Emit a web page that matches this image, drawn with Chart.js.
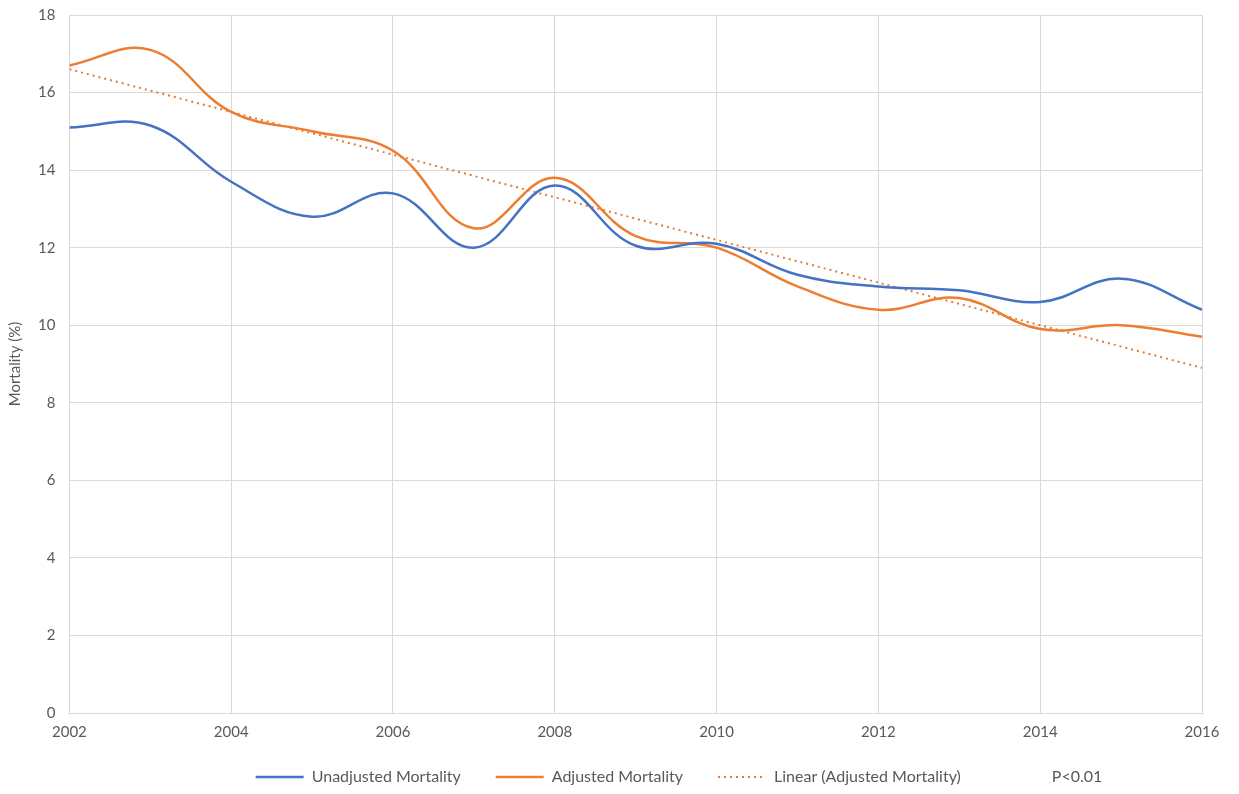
<!DOCTYPE html>
<html>
<head>
<meta charset="utf-8">
<script src="https://cdn.jsdelivr.net/npm/chart.js@4/dist/chart.umd.min.js"></script>
<style>
  html, body { margin: 0; padding: 0; background: #fff; }
  #wrap { width: 1239px; height: 794px; }
</style>
</head>
<body>
<div id="wrap"><canvas id="mortality"></canvas></div>
<script>
/* ---------- DATA ---------- */
const years = [2002, 2003, 2004, 2005, 2006, 2007, 2008, 2009, 2010, 2011, 2012, 2013, 2014, 2015, 2016];
const unadjusted = [15.1, 15.15, 13.7, 12.8, 13.4, 12.0, 13.6, 12.05, 12.1, 11.3, 11.0, 10.9, 10.6, 11.2, 10.4];
const adjusted = [16.7, 17.1, 15.5, 15.0, 14.5, 12.5, 13.8, 12.3, 12.0, 11.0, 10.4, 10.7, 9.9, 10.0, 9.7];
// trendline ends
const trendYears = [2002, 2016];
const trendValues = [16.6, 8.9];
const yTicks = [0, 2, 4, 6, 8, 10, 12, 14, 16, 18];
const xTicks = [2002, 2004, 2006, 2008, 2010, 2012, 2014, 2016];

const pts = (xs, ys) => xs.map((x, i) => ({ x: x, y: ys[i] }));

const FONT = "Lato, 'Open Sans', sans-serif";
const GREY = '#595959';
const GRID = '#d9d9d9';
const LEGEND_PAD = 35;   // horizontal gap between legend items
const LEGEND_H = 42;     // legend box height, kept fixed

/* wide gaps between legend items without a tall legend box,
   and nudge the row to the right like the excel original */
const legendTweak = {
  id: 'legendTweak',
  afterInit(chart) {
    const lg = chart.legend;
    const fit = lg.fit;
    lg.fit = function () { fit.call(this); this.height = LEGEND_H; };
  },
  afterLayout(chart) {
    const lg = chart.legend;
    lg.top -= 17;
    lg.left += 75;
    lg.right += 75;
  }
};

/* ---------- CHART ---------- */
new Chart(document.getElementById('mortality').getContext('2d'), {
  type: 'line',
  data: {
    datasets: [
      {
        label: 'Unadjusted Mortality',
        data: pts(years, unadjusted),
        borderColor: '#4472C4',
        backgroundColor: '#4472C4',
        borderWidth: 2.5,
        tension: 0.4,
        pointRadius: 0
      },
      {
        label: 'Adjusted Mortality',
        data: pts(years, adjusted),
        borderColor: '#ED7D31',
        backgroundColor: '#ED7D31',
        borderWidth: 2.5,
        tension: 0.4,
        pointRadius: 0
      },
      {
        label: 'Linear (Adjusted Mortality)',
        data: pts(trendYears, trendValues),
        borderColor: '#E07B39',
        backgroundColor: '#E07B39',
        borderWidth: 2,
        borderDash: [2, 4],
        tension: 0,
        pointRadius: 0
      },
      {
        label: 'P<0.01',
        data: [],
        borderColor: 'rgba(0,0,0,0)',
        backgroundColor: 'rgba(0,0,0,0)',
        borderWidth: 0,
        pointRadius: 0
      }
    ]
  },
  plugins: [legendTweak],
  options: {
    responsive: true,
    maintainAspectRatio: false,
    animation: false,
    layout: { padding: { top: 0, right: 37, bottom: 1, left: 6 } },
    plugins: {
      tooltip: { enabled: false },
      legend: {
        position: 'bottom',
        labels: {
          usePointStyle: true,
          pointStyle: 'line',
          pointStyleWidth: 48,
          padding: LEGEND_PAD,
          color: GREY,
          font: { family: FONT, size: 16 },
          // point-style legend items drop the dash, put it back
          generateLabels: chart => {
            const items = Chart.defaults.plugins.legend.labels.generateLabels(chart);
            items.forEach(it => {
              const ds = chart.data.datasets[it.datasetIndex];
              it.lineDash = ds.borderDash || [];
              it.lineWidth = ds.borderWidth;
              it.strokeStyle = ds.borderColor;
            });
            return items;
          }
        }
      }
    },
    scales: {
      x: {
        type: 'linear',
        min: 2002,
        max: 2016,
        afterBuildTicks: axis => { axis.ticks = xTicks.map(v => ({ value: v })); },
        ticks: {
          callback: v => String(v),
          color: GREY,
          padding: 10,
          maxRotation: 0,
          font: { family: FONT, size: 15 }
        },
        grid: { color: GRID, lineWidth: 1, drawTicks: false },
        border: { color: GRID }
      },
      y: {
        min: 0,
        max: 18,
        afterBuildTicks: axis => { axis.ticks = yTicks.map(v => ({ value: v })); },
        afterFit: scale => { scale.paddingTop = 15; },
        title: {
          display: true,
          text: 'Mortality (%)',
          color: GREY,
          padding: { top: 0, bottom: 0 },
          font: { family: FONT, size: 15 }
        },
        ticks: {
          color: GREY,
          padding: 14,
          font: { family: FONT, size: 15 }
        },
        grid: { color: GRID, lineWidth: 1, drawTicks: false },
        border: { display: false }
      }
    }
  }
});
</script>
</body>
</html>
